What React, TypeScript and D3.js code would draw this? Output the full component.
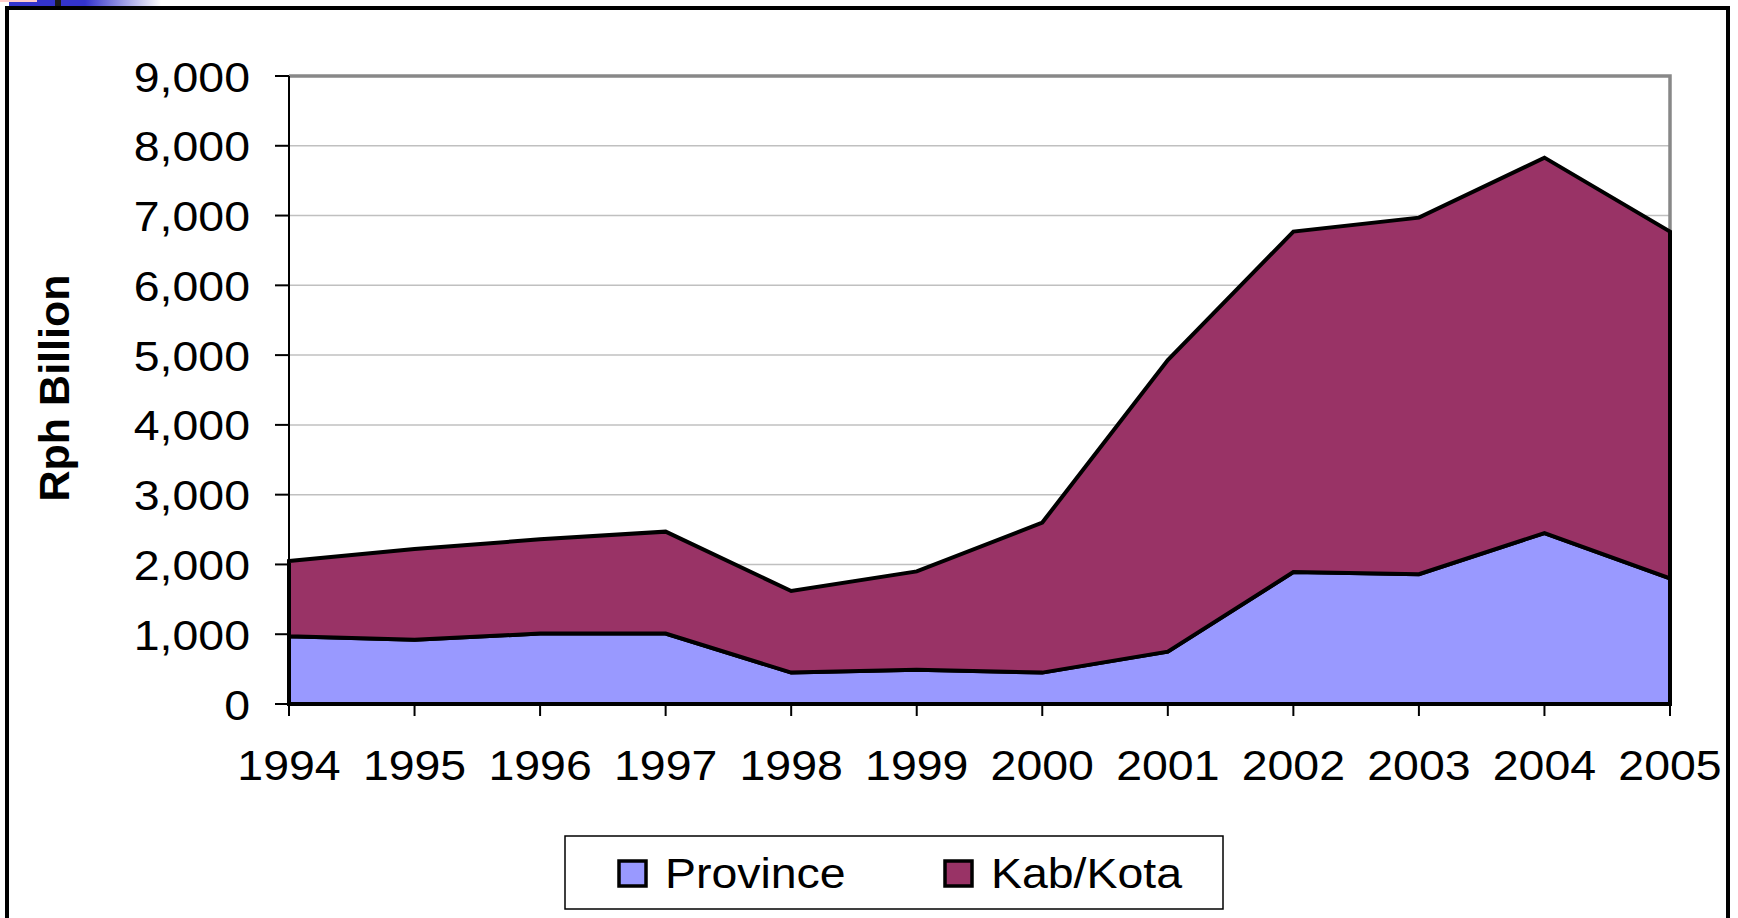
import React from 'react';
import * as d3 from 'd3';

const years = ['1994', '1995', '1996', '1997', '1998', '1999', '2000', '2001', '2002', '2003', '2004', '2005'];
const province = [970, 920, 1010, 1010, 450, 490, 450, 750, 1890, 1860, 2450, 1800];
const kabKota = [1080, 1300, 1350, 1460, 1170, 1410, 2150, 4180, 4880, 5110, 5380, 4970];
const yTicks = [0, 1000, 2000, 3000, 4000, 5000, 6000, 7000, 8000, 9000];
const seriesNames = ['Province', 'Kab/Kota'];
const seriesColors = ['#9999ff', '#993366'];

const W = 1738;
const H = 918;
const FONT = '"Liberation Sans", Arial, sans-serif';
// the source picture is a bit wider than it is tall, so text is stretched
const STRETCH = 1.08;
const FS = 43;

const left = 289;
const right = 1670;
const top = 76;
const bottom = 704;

const App: React.FC = () => {
  const x = d3.scalePoint<string>().domain(years).range([left, right]);
  const y = d3.scaleLinear().domain([0, 9000]).range([bottom, top]);

  const rows = years.map((yr, i) => ({ year: yr, Province: province[i], 'Kab/Kota': kabKota[i] }));
  const stacked = d3.stack<any>().keys(seriesNames)(rows);

  const area = d3
    .area<any>()
    .x((d) => x(d.data.year)!)
    .y0((d) => y(d[0]))
    .y1((d) => y(d[1]));

  const fmt = d3.format(',');

  return (
    <svg
      width={W}
      height={H}
      style={{ position: 'absolute', left: 0, top: 0, display: 'block', background: '#fff' }}
      fontFamily={FONT}
    >
      <defs>
        <linearGradient id="topbar" x1="0" x2="1" y1="0" y2="0">
          <stop offset="0" stopColor="#3333cc" />
          <stop offset="0.5" stopColor="#3333cc" />
          <stop offset="1" stopColor="#ffffff" />
        </linearGradient>
      </defs>

      {/* slide decoration */}
      <rect x={9} y={0} width={152} height={6} fill="url(#topbar)" />
      <rect x={0} y={0} width={37} height={2} fill="#ffcccc" />
      <rect x={55} y={0} width={6} height={7} fill="#1a1a1a" />

      {/* outer frame */}
      <rect x={7} y={8} width={1721} height={940} fill="none" stroke="#000" strokeWidth={4} />

      {/* gridlines */}
      {yTicks.slice(1, -1).map((t) => (
        <line key={t} x1={left} x2={right} y1={y(t)} y2={y(t)} stroke="#c0c0c0" strokeWidth={1.5} />
      ))}

      {/* plot border */}
      <path d={`M${left},${top}H${right}V${bottom}`} fill="none" stroke="#888" strokeWidth={3.5} />

      {/* areas */}
      {stacked.map((s, i) => (
        <path key={s.key} d={area(s) + ''} fill={seriesColors[i]} stroke="#000" strokeWidth={4} />
      ))}

      {/* y axis */}
      <line x1={left} x2={left} y1={top} y2={bottom} stroke="#000" strokeWidth={2} />
      {yTicks.map((t) => (
        <g key={t}>
          <line x1={left - 14} x2={left} y1={y(t)} y2={y(t)} stroke="#000" strokeWidth={2} />
          <g transform={`translate(250,${y(t) + 15.5}) scale(${STRETCH},1)`}>
            <text textAnchor="end" fontSize={FS} fill="#000">
              {fmt(t)}
            </text>
          </g>
        </g>
      ))}

      {/* x axis */}
      <line x1={left} x2={right} y1={bottom} y2={bottom} stroke="#000" strokeWidth={3} />
      {years.map((yr) => (
        <g key={yr}>
          <line x1={x(yr)} x2={x(yr)} y1={bottom} y2={bottom + 12} stroke="#000" strokeWidth={2} />
          <g transform={`translate(${x(yr)},780) scale(${STRETCH},1)`}>
            <text textAnchor="middle" fontSize={FS} fill="#000">
              {yr}
            </text>
          </g>
        </g>
      ))}

      {/* y axis title */}
      <text
        transform="translate(69,388) rotate(-90)"
        textAnchor="middle"
        fontSize={43}
        fontWeight="bold"
        fill="#000"
      >
        Rph Billion
      </text>

      {/* legend */}
      <rect x={565} y={836} width={658} height={73} fill="#fff" stroke="#000" strokeWidth={1.5} />
      {seriesNames.map((name, i) => {
        const sx = [619, 945][i];
        return (
          <g key={name}>
            <rect x={sx} y={861} width={27} height={25} fill={seriesColors[i]} stroke="#000" strokeWidth={3.5} />
            <g transform={`translate(${sx + 46},888) scale(${STRETCH},1)`}>
              <text fontSize={FS} fill="#000">
                {name}
              </text>
            </g>
          </g>
        );
      })}
    </svg>
  );
};

export default App;
